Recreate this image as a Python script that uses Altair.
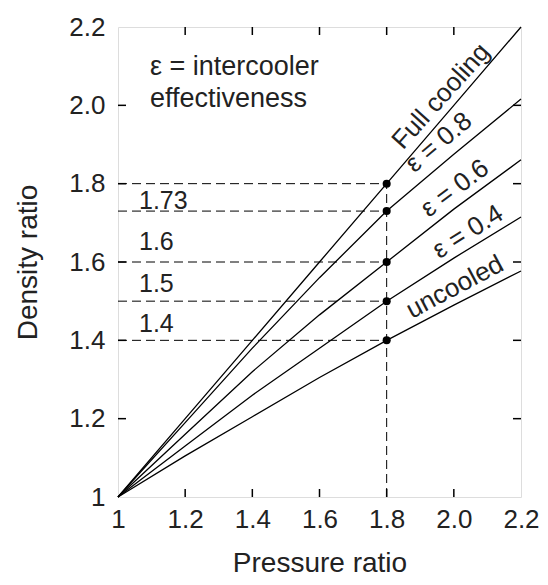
import altair as alt
import pandas as pd

# ---------------- data ----------------
pressure = [1.0, 1.2, 1.4, 1.6, 1.8, 2.0, 2.2]
full_cooling = [1.0, 1.2, 1.4, 1.6, 1.8, 2.0, 2.2]
eps_08 = [1.0, 1.19, 1.38, 1.56, 1.73, 1.875, 2.016]
eps_06 = [1.0, 1.16, 1.32, 1.465, 1.6, 1.735, 1.861]
eps_04 = [1.0, 1.13, 1.26, 1.38, 1.5, 1.61, 1.715]
uncooled = [1.0, 1.105, 1.205, 1.305, 1.4, 1.49, 1.577]

series_names = ["Full cooling", "ε = 0.8", "ε = 0.6", "ε = 0.4", "uncooled"]
series_values = [full_cooling, eps_08, eps_06, eps_04, uncooled]

marker_x = 1.8
marker_y = [1.8, 1.73, 1.6, 1.5, 1.4]

value_labels = ["1.73", "1.6", "1.5", "1.4"]
value_label_x = [1.0625, 1.0625, 1.0625, 1.0625]
value_label_y = [1.755, 1.65, 1.543, 1.441]

curve_label_x = [1.962, 1.955, 2.003, 2.042, 2.003]
curve_label_y = [2.023, 1.905, 1.788, 1.677, 1.536]
curve_label_angle = [312, 320, 323, 328, 332]

note_lines = ["ε = intercooler", "effectiveness"]
note_x = [1.095, 1.095]
note_y = [2.097, 2.015]

axis_ticks = [1.0, 1.2, 1.4, 1.6, 1.8, 2.0, 2.2]
inner_ticks = [1.2, 1.4, 1.6, 1.8, 2.0]

x_title = "Pressure ratio"
y_title = "Density ratio"

# ---------------- tables ----------------
lines_df = pd.DataFrame(
    [
        {"pr": p, "dr": v, "series": name}
        for name, vals in zip(series_names, series_values)
        for p, v in zip(pressure, vals)
    ]
)
hdash_df = pd.DataFrame({"x0": [pressure[0]] * len(marker_y), "x1": [marker_x] * len(marker_y), "y": marker_y})
vdash_df = pd.DataFrame({"x": [marker_x], "y0": [full_cooling[0]], "y1": [marker_y[0]]})
points_df = pd.DataFrame({"x": [marker_x] * len(marker_y), "y": marker_y})
vlab_df = pd.DataFrame({"x": value_label_x, "y": value_label_y, "t": value_labels})
clab_df = pd.DataFrame({"x": curve_label_x, "y": curve_label_y, "t": series_names, "a": curve_label_angle})
note_df = pd.DataFrame({"x": note_x, "y": note_y, "t": note_lines})
ticks_df = pd.DataFrame({"v": inner_ticks})

W, H = 403, 470
TICK = 8
FONT = "Liberation Sans"
INK = "#222222"
xs = alt.Scale(domain=[1.0, 2.2], nice=False, zero=False)
ys = alt.Scale(domain=[1.0, 2.2], nice=False, zero=False)
lab_expr = "datum.value == 1 ? '1' : format(datum.value, '.1f')"

# main lines with labelled axes
lines = alt.Chart(lines_df).mark_line(color="black", strokeWidth=1.3).encode(
    x=alt.X("pr:Q", scale=xs, axis=alt.Axis(
        orient="bottom", values=axis_ticks, labelExpr=lab_expr, ticks=False, domain=False,
        grid=False, labelFlush=False, labelFont=FONT, labelFontSize=26, labelColor=INK,
        labelPadding=9, title=x_title, titleFont=FONT, titleFontSize=28,
        titleFontWeight="normal", titleColor=INK, titlePadding=17)),
    y=alt.Y("dr:Q", scale=ys, axis=alt.Axis(
        orient="left", values=axis_ticks, labelExpr=lab_expr, ticks=False, domain=False,
        grid=False, labelFont=FONT, labelFontSize=26, labelColor=INK, labelPadding=13,
        title=y_title, titleFont=FONT, titleFontSize=28, titleFontWeight="normal",
        titleColor=INK, titlePadding=26)),
    detail="series:N",
    order="pr:Q",
)

# inward tick marks on all four sides
tick_style = dict(color="black", thickness=1.5, size=TICK, opacity=1)
t_bottom = alt.Chart(ticks_df).mark_tick(orient="vertical", **tick_style).encode(
    x=alt.X("v:Q", scale=xs), y=alt.value(H - TICK / 2))
t_top = alt.Chart(ticks_df).mark_tick(orient="vertical", **tick_style).encode(
    x=alt.X("v:Q", scale=xs), y=alt.value(TICK / 2))
t_left = alt.Chart(ticks_df).mark_tick(orient="horizontal", **tick_style).encode(
    y=alt.Y("v:Q", scale=ys), x=alt.value(TICK / 2))
t_right = alt.Chart(ticks_df).mark_tick(orient="horizontal", **tick_style).encode(
    y=alt.Y("v:Q", scale=ys), x=alt.value(W - TICK / 2))

# dashed guides
hdash = alt.Chart(hdash_df).mark_rule(color="black", strokeWidth=1, strokeDash=[9, 5]).encode(
    x=alt.X("x0:Q", scale=xs), x2="x1:Q", y=alt.Y("y:Q", scale=ys))
vdash = alt.Chart(vdash_df).mark_rule(color="black", strokeWidth=1, strokeDash=[9, 5]).encode(
    x=alt.X("x:Q", scale=xs), y=alt.Y("y0:Q", scale=ys), y2="y1:Q")

points = alt.Chart(points_df).mark_circle(color="black", size=65, opacity=1).encode(
    x=alt.X("x:Q", scale=xs), y=alt.Y("y:Q", scale=ys))

vlabels = alt.Chart(vlab_df).mark_text(font=FONT, fontSize=25, color=INK, align="left", baseline="middle").encode(
    x=alt.X("x:Q", scale=xs), y=alt.Y("y:Q", scale=ys), text="t:N")

clabels = alt.Chart(clab_df).mark_text(font=FONT, fontSize=26, color=INK, align="center", baseline="middle").encode(
    x=alt.X("x:Q", scale=xs), y=alt.Y("y:Q", scale=ys), text="t:N",
    angle=alt.Angle("a:Q", scale=None))

note = alt.Chart(note_df).mark_text(font=FONT, fontSize=27, color=INK, align="left", baseline="middle").encode(
    x=alt.X("x:Q", scale=xs), y=alt.Y("y:Q", scale=ys), text="t:N")

chart = (
    alt.layer(lines, hdash, vdash, points, vlabels, clabels, note, t_bottom, t_top, t_left, t_right)
    .properties(width=W, height=H, padding={"left": 6, "top": 6, "right": 0, "bottom": 0})
    .configure_view(stroke="black", strokeWidth=1.3)
    .configure(background="white")
)

chart.save("out.html", embed_options={"renderer": "svg", "actions": False})
